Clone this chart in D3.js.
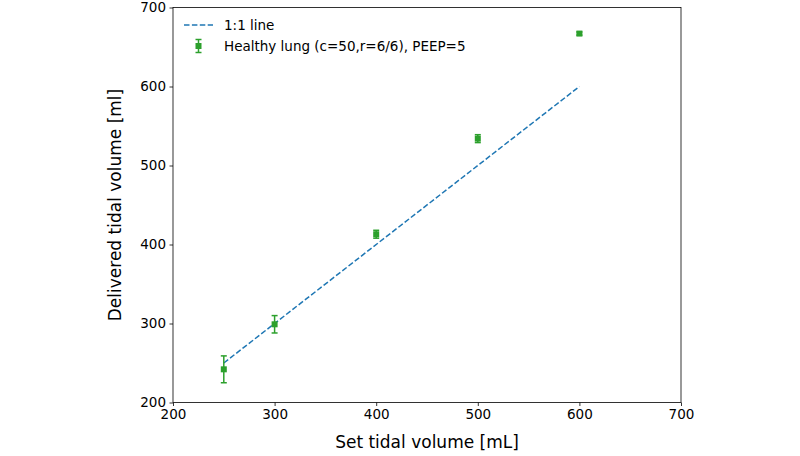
<!DOCTYPE html>
<html>
<head>
<meta charset="utf-8">
<script src="https://d3js.org/d3.v7.min.js"></script>
<style>
  body { margin: 0; background: #fff; }
  text { font-family: "DejaVu Sans", sans-serif; fill: #000; }
</style>
</head>
<body>
<svg id="chart" width="800" height="456"></svg>
<script>
  // data
  var setVolume = [250, 300, 400, 500, 600];
  var delivered = [242, 299, 413, 534, 667];
  var errors = [17, 11, 5, 5, 2];
  var lineX = [250, 600];
  var xTicks = [200, 300, 400, 500, 600, 700];
  var yTicks = [200, 300, 400, 500, 600, 700];

  var pLeft = 173, pRight = 681, pTop = 7.5, pBottom = 402.5;
  var green = "#2ca02c", blue = "#1f77b4";

  var svg = d3.select("#chart");

  var x = d3.scaleLinear().domain([200, 700]).range([pLeft, pRight]);
  var y = d3.scaleLinear().domain([200, 700]).range([pBottom, pTop]);

  // frame
  svg.append("rect")
    .attr("x", pLeft).attr("y", pTop)
    .attr("width", pRight - pLeft).attr("height", pBottom - pTop)
    .attr("fill", "none").attr("stroke", "#000").attr("stroke-width", 0.8);

  var xAxis = svg.append("g")
    .attr("transform", "translate(0," + pBottom + ")")
    .call(d3.axisBottom(x).tickValues(xTicks).tickSize(3.5).tickPadding(3.5));
  var yAxis = svg.append("g")
    .attr("transform", "translate(" + pLeft + ",0)")
    .call(d3.axisLeft(y).tickValues(yTicks).tickSize(3.5).tickPadding(3.5));
  [xAxis, yAxis].forEach(function(g) {
    g.select(".domain").remove();
    g.selectAll("line").attr("stroke", "#000").attr("stroke-width", 0.8);
    g.selectAll("text").style("font-size", "13.5px").style("font-family", "DejaVu Sans");
  });

  // 1:1 line
  svg.append("line")
    .attr("x1", x(lineX[0])).attr("y1", y(lineX[0]))
    .attr("x2", x(lineX[1])).attr("y2", y(lineX[1]))
    .attr("stroke", blue).attr("stroke-width", 1.5)
    .attr("stroke-dasharray", "5.5,2.4");

  // error bars
  var pts = setVolume.map(function(d, i) { return {x: d, y: delivered[i], e: errors[i]}; });
  var eb = svg.append("g").attr("stroke", green).attr("stroke-width", 1.5);
  pts.forEach(function(p) {
    eb.append("line").attr("x1", x(p.x)).attr("x2", x(p.x))
      .attr("y1", y(p.y - p.e)).attr("y2", y(p.y + p.e));
    [p.y - p.e, p.y + p.e].forEach(function(v) {
      eb.append("line").attr("x1", x(p.x) - 3).attr("x2", x(p.x) + 3)
        .attr("y1", y(v)).attr("y2", y(v));
    });
  });
  svg.selectAll(".pt").data(pts).enter().append("rect")
    .attr("x", function(d) { return x(d.x) - 3; })
    .attr("y", function(d) { return y(d.y) - 3; })
    .attr("width", 6).attr("height", 6)
    .attr("fill", green);

  // legend
  var lg = svg.append("g");
  lg.append("line").attr("x1", 184).attr("x2", 213).attr("y1", 25).attr("y2", 25)
    .attr("stroke", blue).attr("stroke-width", 1.5).attr("stroke-dasharray", "5.5,2.4");
  lg.append("text").attr("x", 224).attr("y", 30).style("font-size", "13.5px").text("1:1 line");
  lg.append("line").attr("x1", 198.5).attr("x2", 198.5).attr("y1", 39.5).attr("y2", 52.5)
    .attr("stroke", green).attr("stroke-width", 1.5);
  lg.append("line").attr("x1", 195.5).attr("x2", 201.5).attr("y1", 39.5).attr("y2", 39.5)
    .attr("stroke", green).attr("stroke-width", 1.5);
  lg.append("line").attr("x1", 195.5).attr("x2", 201.5).attr("y1", 52.5).attr("y2", 52.5)
    .attr("stroke", green).attr("stroke-width", 1.5);
  lg.append("rect").attr("x", 195.5).attr("y", 43).attr("width", 6).attr("height", 6).attr("fill", green);
  lg.append("text").attr("x", 224).attr("y", 51).style("font-size", "13.5px")
    .text("Healthy lung (c=50,r=6/6), PEEP=5");

  // axis labels
  svg.append("text").attr("x", (pLeft + pRight) / 2).attr("y", 448)
    .attr("text-anchor", "middle").style("font-size", "17px").text("Set tidal volume [mL]");
  svg.append("text").attr("transform", "translate(121," + ((pTop + pBottom) / 2) + ") rotate(-90)")
    .attr("text-anchor", "middle").style("font-size", "17px").text("Delivered tidal volume [ml]");
</script>
</body>
</html>
